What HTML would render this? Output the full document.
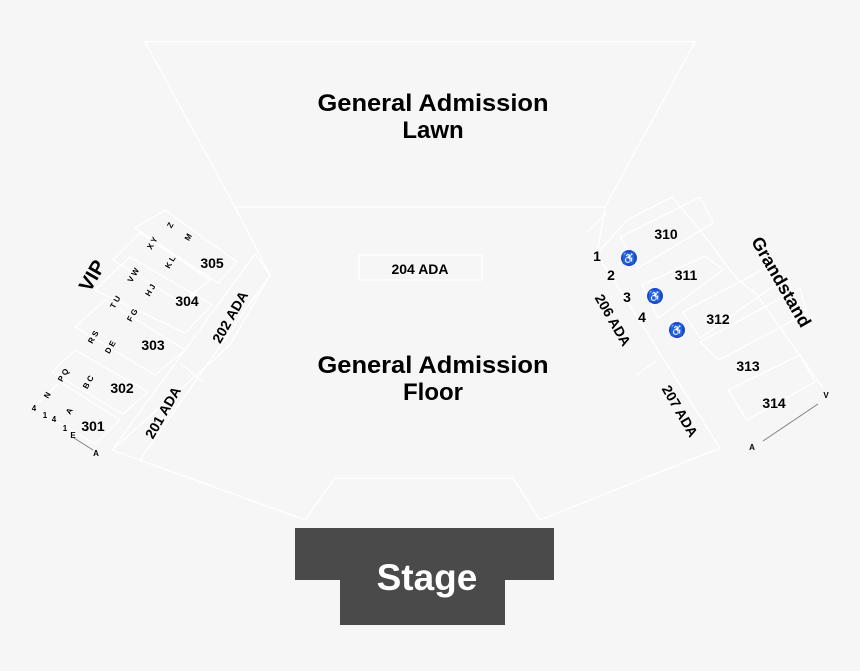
<!DOCTYPE html>
<html><head><meta charset="utf-8"><style>
html,body{margin:0;padding:0;background:#f6f6f6;}
svg{display:block;}
text{font-family:"Liberation Sans",Arial,sans-serif;font-weight:bold;fill:#000;}
</style></head><body>
<svg width="860" height="671" viewBox="0 0 860 671" xmlns="http://www.w3.org/2000/svg">
<rect width="860" height="671" fill="#f6f6f6"/>
<g fill="none" stroke="#ffffff" stroke-width="1.3">
<polyline points="235,207 145,42 695,42 605,207"/>
<line x1="235" y1="207" x2="605" y2="207"/>
<polyline points="235,207 270,275 230,345 112,450 305,520 335,478 513,478 540,520 720,448 682,388 597,254 605,207"/>
<rect x="359" y="255" width="123" height="25"/>
<polyline points="112,450 255,254 270,275"/>
<line x1="140" y1="460" x2="270" y2="275"/>
<line x1="180" y1="363" x2="203" y2="382"/>
<polygon points="33,408 60,382 120,420 95,444"/>
<polygon points="52,372 75,350 148,392 123,414"/>
<polygon points="75,327 105,300 185,350 155,375"/>
<polygon points="95,290 130,257 212,305 185,333"/>
<polygon points="113,260 140,233 210,280 182,303"/>
<polygon points="135,228 165,210 237,262 218,283"/>
<polyline points="597,254 627,220 672,197 700,230 736,278 757,295 823,388"/>
<polyline points="587,232 606,214"/>
<polygon points="620,237 700,197 713,223 638,268"/>
<polygon points="642,285 705,256 723,270 658,318"/>
<polygon points="683,312 766,268 775,285 700,338"/>
<polygon points="700,342 800,288 807,313 719,360"/>
<polygon points="728,390 800,355 815,382 747,420"/>
<line x1="637" y1="375" x2="657" y2="360"/>
</g>
<line x1="763" y1="441" x2="818" y2="404" stroke="#777" stroke-width="0.8"/>
<line x1="74" y1="438" x2="93" y2="450" stroke="#777" stroke-width="0.8"/>
<polygon points="295,528 554,528 554,580 505,580 505,625 340,625 340,580 295,580" fill="#4a4a4a"/>
<text x="427" y="590" font-size="37" text-anchor="middle" style="fill:#fff">Stage</text>
<text x="433" y="111" font-size="24" text-anchor="middle" textLength="231" lengthAdjust="spacingAndGlyphs">General Admission</text>
<text x="433" y="138" font-size="24" text-anchor="middle">Lawn</text>
<text x="433" y="373" font-size="24" text-anchor="middle" textLength="231" lengthAdjust="spacingAndGlyphs">General Admission</text>
<text x="433" y="400" font-size="24" text-anchor="middle">Floor</text>
<text x="420" y="274" font-size="14" text-anchor="middle">204 ADA</text>
<text x="95" y="290" font-size="20" transform="rotate(-60 87 282)" text-anchor="middle">VIP</text>
<text x="162" y="418" font-size="14" transform="rotate(-60 162 412)" text-anchor="middle">201 ADA</text>
<text x="230" y="322" font-size="14" transform="rotate(-60 230 317)" text-anchor="middle">202 ADA</text>
<text x="93" y="431" font-size="14" text-anchor="middle">301</text>
<text x="122" y="393" font-size="14" text-anchor="middle">302</text>
<text x="153" y="350" font-size="14" text-anchor="middle">303</text>
<text x="187" y="306" font-size="14" text-anchor="middle">304</text>
<text x="212" y="268" font-size="14" text-anchor="middle">305</text>
<g font-size="8" text-anchor="middle">
<text x="34" y="411">4</text><text x="45" y="418">1</text><text x="54" y="422">4</text><text x="65" y="431">1</text><text x="73" y="438">E</text><text x="96" y="456">A</text>
<text x="47" y="398" transform="rotate(-60 47 395)">N</text><text x="69" y="414" transform="rotate(-60 69 411)">A</text>
<text x="63" y="378" transform="rotate(-60 63 375)">P Q</text><text x="88" y="385" transform="rotate(-60 88 382)">B C</text>
<text x="93" y="340" transform="rotate(-60 93 337)">R S</text><text x="110" y="350" transform="rotate(-60 110 347)">D E</text>
<text x="115" y="305" transform="rotate(-60 115 302)">T U</text><text x="132" y="318" transform="rotate(-60 132 315)">F G</text>
<text x="133" y="278" transform="rotate(-60 133 275)">V W</text><text x="150" y="293" transform="rotate(-60 150 290)">H J</text>
<text x="152" y="246" transform="rotate(-60 152 243)">X Y</text><text x="170" y="265" transform="rotate(-60 170 262)">K L</text>
<text x="170" y="228" transform="rotate(-60 170 225)">Z</text><text x="188" y="240" transform="rotate(-60 188 237)">M</text>
</g>
<text x="776" y="285" font-size="18" transform="rotate(60 776 285)" text-anchor="middle">Grandstand</text>
<text x="613" y="325" font-size="14" transform="rotate(60 613 320)" text-anchor="middle">206 ADA</text>
<text x="680" y="416" font-size="14" transform="rotate(60 680 411)" text-anchor="middle">207 ADA</text>
<g font-size="14" text-anchor="middle">
<text x="666" y="239">310</text><text x="686" y="280">311</text><text x="718" y="324">312</text><text x="748" y="371">313</text><text x="774" y="408">314</text>
<text x="597" y="261">1</text><text x="611" y="280">2</text><text x="627" y="302">3</text><text x="642" y="322">4</text>
</g>
<g font-size="8" text-anchor="middle"><text x="826" y="398">V</text><text x="752" y="450">A</text></g>
<g fill="#1a44d6">
<circle cx="629" cy="258" r="8"/><circle cx="655" cy="296" r="8"/><circle cx="677" cy="330" r="8"/>
</g>
<g font-size="11" text-anchor="middle">
<text x="629" y="262" style="fill:#fff">♿</text><text x="655" y="300" style="fill:#fff">♿</text><text x="677" y="334" style="fill:#fff">♿</text>
</g>
</svg>
</body></html>
